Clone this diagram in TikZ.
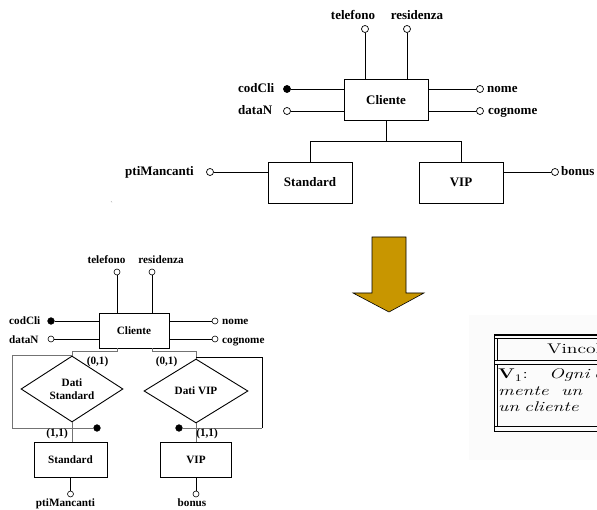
\documentclass[tikz,border=0pt]{standalone}
\usepackage{fontspec}
\newfontfamily\erfont{Liberation Serif}
\usetikzlibrary{shapes.geometric}
\definecolor{arrowgold}{RGB}{200,150,0}
\definecolor{lgray}{gray}{0.45}
\newcommand\tabstretch[1]{\scalebox{1.4}[1]{#1}}
\begin{document}
\begin{tikzpicture}[x=1pt,y=-1pt,
  lbig/.style={font=\erfont\bfseries\fontsize{13}{15}\selectfont, inner sep=0pt},
  lsmall/.style={font=\erfont\bfseries\fontsize{11.2}{13}\selectfont, inner sep=0pt},
  entA/.style={draw, line width=0.9pt, minimum width=84pt, minimum height=41pt, inner sep=0pt},
  entB/.style={draw, line width=0.9pt, minimum width=72pt, minimum height=35pt, inner sep=0pt},
  attrA/.style={circle, draw, fill=white, inner sep=0pt, minimum size=7pt, line width=0.7pt},
  keyA/.style={attrA, fill=black},
  attrB/.style={circle, draw, fill=white, inner sep=0pt, minimum size=6pt, line width=0.6pt},
  keyB/.style={attrB, fill=black, minimum size=6.6pt},
  rel/.style={diamond, draw, line width=0.9pt, inner sep=0pt, align=center},
  conn/.style={line width=0.9pt},
  gconn/.style={line width=0.9pt, draw=lgray},
  tabtxt/.style={font=\fontsize{14}{16}\selectfont, inner sep=0pt, anchor=base west},
  card/.style={lsmall, anchor=base}
]
\useasboundingbox (0,0) rectangle (597,510);
\clip (0,0) rectangle (597,510);

% ---------- upper diagram ----------
\node[entA, lbig] (cli) at (386,100) {Cliente};
\node[entA, lbig] (std) at (310,182.5) {Standard};
\node[entA, lbig] (vip) at (461,182.5) {VIP};

\node[attrA] (tel) at (365,29) {};
\node[attrA] (res) at (407,29) {};
\node[lbig, anchor=base] (telL) at (353,20) {telefono};
\node[lbig, anchor=base] (resL) at (417,20) {residenza};
\draw[conn] (tel) -- (tel |- cli.north);
\draw[conn] (res) -- (res |- cli.north);

\node[keyA] (cod) at (287,89) {};
\node[attrA] (dat) at (287,111) {};
\node[lbig, anchor=base west] (codL) at (238,93) {codCli};
\node[lbig, anchor=base west] (datL) at (238,114.5) {dataN};
\draw[conn] (cod) -- (cod -| cli.west);
\draw[conn] (dat) -- (dat -| cli.west);

\node[attrA] (nom) at (480,89) {};
\node[attrA] (cog) at (480,111) {};
\node[lbig, anchor=base west] (nomL) at (487,93) {nome};
\node[lbig, anchor=base west] (cogL) at (488,114.5) {cognome};
\draw[conn] (nom) -- (nom -| cli.east);
\draw[conn] (cog) -- (cog -| cli.east);

\coordinate (hj) at (386,141);
\draw[conn] (cli.south) -- (hj);
\draw[conn] (std.north) -- (std.north |- hj) -- (vip.north |- hj) -- (vip.north);

\node[attrA] (pti) at (210,172) {};
\node[lbig, anchor=base west] (ptiL) at (125,176) {ptiMancanti};
\draw[conn] (pti) -- (pti -| std.west);
\node[attrA] (bon) at (555,172) {};
\node[lbig, anchor=base west] (bonL) at (561,176) {bonus};
\draw[conn] (bon -| vip.east) -- (bon);

\node[font=\scriptsize, text=gray, inner sep=0pt] (tick) at (112,204) {\`{}};

% ---------- arrow ----------
\filldraw[fill=arrowgold, draw=black, line width=0.6pt]
  (372,237) -- (406,237) -- (406,293) -- (424,293) -- (389,312)
  -- (353,293) -- (372,293) -- cycle;

% ---------- lower diagram ----------
\node[entB, lsmall, minimum width=70pt] (cli2) at (134,330.5) {Cliente};
\node[entB, lsmall, minimum width=73pt] (std2) at (70.5,459.5) {Standard};
\node[entB, lsmall, minimum width=71pt] (vip2) at (196,459.5) {VIP};

\node[attrB] (tel2) at (117,272) {};
\node[attrB] (res2) at (152,272) {};
\node[lsmall, anchor=base] (tel2L) at (106.5,264) {telefono};
\node[lsmall, anchor=base] (res2L) at (161,264) {residenza};
\draw[conn] (tel2) -- (tel2 |- cli2.north);
\draw[conn] (res2) -- (res2 |- cli2.north);

\node[keyB] (cod2) at (51,321) {};
\node[attrB] (dat2) at (51,339) {};
\node[lsmall, anchor=base west] (cod2L) at (9,325) {codCli};
\node[lsmall, anchor=base west] (dat2L) at (9,343.3) {dataN};
\draw[conn] (cod2) -- (cod2 -| cli2.west);
\draw[conn] (dat2) -- (dat2 -| cli2.west);

\node[attrB] (nom2) at (215,321) {};
\node[attrB] (cog2) at (215,339) {};
\node[lsmall, anchor=base west] (nom2L) at (222,325) {nome};
\node[lsmall, anchor=base west] (cog2L) at (222,343.3) {cognome};
\draw[conn] (nom2) -- (nom2 -| cli2.east);
\draw[conn] (cog2) -- (cog2 -| cli2.east);

\node[rel, lsmall, minimum width=102pt, minimum height=66pt] (ds) at (72,389) {Dati\\Standard};
\node[rel, lsmall, minimum width=104pt, minimum height=64pt] (dv) at (196,391) {Dati VIP};

\coordinate (bl) at (117,351);
\coordinate (br) at (152,351);
\draw[gconn] (bl |- cli2.south) -- (bl) -- (bl -| ds.north) -- (ds.north);
\draw[gconn] (br |- cli2.south) -- (br) -- (br -| dv.north) -- (dv.north);

\coordinate (lc) at (12,428);
\node[keyB] (dotL) at (97,428) {};
\draw[gconn] (ds.north) -- (ds.north -| lc) -- (lc) -- (dotL);

\coordinate (rt) at (262,357);
\coordinate (rc) at (262,428);
\node[keyB] (dotR) at (179,428) {};
\draw[conn] (dv.north |- rt) -- (rt) -- (rc);
\draw[gconn] (rc) -- (dotR);

\draw[gconn] (ds.south) -- (ds.south |- std2.north);
\draw[gconn] (dv.south) -- (dv.south |- vip2.north);

\node[card] (c01L) at (97.5,365) {(0,1)};
\node[card] (c01R) at (166.5,365) {(0,1)};
\node[card] (c11L) at (57,436.5) {(1,1)};
\node[card] (c11R) at (207,436.5) {(1,1)};

\node[attrB] (pti2) at (70.5,494) {};
\node[lsmall, anchor=base] (pti2L) at (65.5,506.5) {ptiMancanti};
\draw[conn] (std2.south) -- (pti2);
\node[attrB] (bon2) at (196,494) {};
\node[lsmall, anchor=base] (bon2L) at (192,506.5) {bonus};
\draw[conn] (vip2.south) -- (bon2);

% ---------- constraint table ----------
\fill[gray!3] (469,315) rectangle (597,460);
\draw[line width=1.4pt] (494,335) -- (600,335);
\draw[line width=0.6pt] (494,338.3) -- (600,338.3);
\draw[line width=0.6pt] (494,360) -- (600,360);
\draw[line width=0.6pt] (494,364) -- (600,364);
\draw[line width=0.6pt] (494,426.7) -- (600,426.7);
\draw[line width=1.4pt] (494,431.5) -- (600,431.5);
\draw[line width=0.8pt] (494.3,334.5) -- (494.3,432);
\draw[line width=0.6pt] (497,338.3) -- (497,360);
\draw[line width=0.6pt] (497,364) -- (497,426.7);

\node[tabtxt] (thead) at (547,353.5) {\tabstretch{Vincoli}};
\node[tabtxt] (t1a) at (498,379) {\tabstretch{\textbf{V}$_1$:}};
\node[tabtxt] (t1b) at (549,379) {\tabstretch{\textit{Ogni}}};
\node[tabtxt] (t1c) at (594,379) {\tabstretch{\textit{cliente}}};
\node[tabtxt] (t2a) at (498,395.5) {\tabstretch{\textit{mente}}};
\node[tabtxt] (t2b) at (561,395.5) {\tabstretch{\textit{un}}};
\node[tabtxt] (t3a) at (498,411) {\tabstretch{\textit{un}}};
\node[tabtxt] (t3b) at (524,411) {\tabstretch{\textit{cliente}}};
\end{tikzpicture}
\end{document}
